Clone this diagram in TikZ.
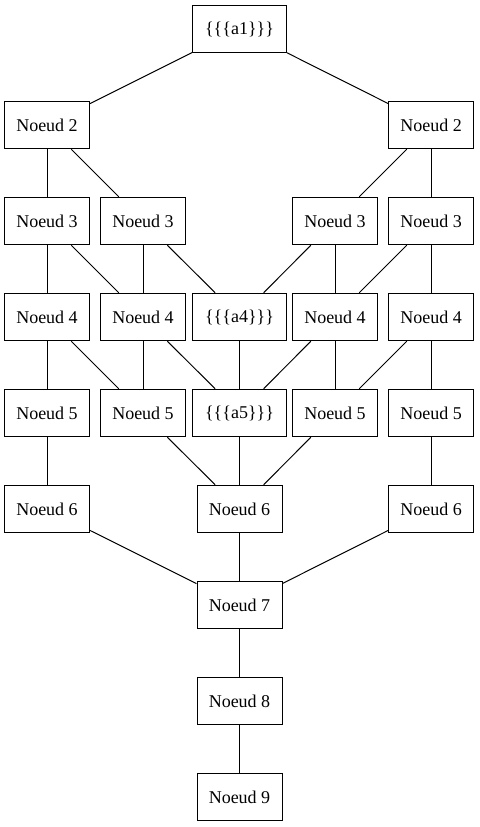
\documentclass[tikz,border=0pt]{standalone}
\usepackage{fontspec}
\setmainfont{Liberation Serif}
\begin{document}
\begin{tikzpicture}[x=0.6pt,y=-0.6pt,
  box/.style={draw,line width=0.6pt,minimum width=51pt,minimum height=28.5pt,inner sep=0pt,font=\fontsize{10.8}{12}\selectfont},
  wbox/.style={box,minimum width=56.4pt},
  edge/.style={line width=0.6pt}]
\useasboundingbox (0,0) rectangle (479,827);
\node[wbox] (a1) at (239.5,29) {\{\{\{a1\}\}\}};
\node[box] (n2l) at (47,125) {Noeud 2};
\node[box] (n2r) at (431,125) {Noeud 2};
\node[box] (n3a) at (47,221) {Noeud 3};
\node[box] (n3b) at (143,221) {Noeud 3};
\node[box] (n3c) at (335,221) {Noeud 3};
\node[box] (n3d) at (431,221) {Noeud 3};
\node[box] (n4a) at (47,317) {Noeud 4};
\node[box] (n4b) at (143,317) {Noeud 4};
\node[wbox] (a4) at (239.5,317) {\{\{\{a4\}\}\}};
\node[box] (n4d) at (335,317) {Noeud 4};
\node[box] (n4e) at (431,317) {Noeud 4};
\node[box] (n5a) at (47,413) {Noeud 5};
\node[box] (n5b) at (143,413) {Noeud 5};
\node[wbox] (a5) at (239.5,413) {\{\{\{a5\}\}\}};
\node[box] (n5d) at (335,413) {Noeud 5};
\node[box] (n5e) at (431,413) {Noeud 5};
\node[box] (n6a) at (47,509) {Noeud 6};
\node[box] (n6b) at (239.5,509) {Noeud 6};
\node[box] (n6c) at (431,509) {Noeud 6};
\node[box] (n7) at (239.5,605) {Noeud 7};
\node[box] (n8) at (239.5,701) {Noeud 8};
\node[box] (n9) at (239.5,797) {Noeud 9};
\foreach \s/\t in {a1/n2l,a1/n2r,n2l/n3a,n2l/n3b,n2r/n3c,n2r/n3d,
  n3a/n4a,n3a/n4b,n3b/n4b,n3b/a4,n3c/a4,n3c/n4d,n3d/n4d,n3d/n4e,
  n4a/n5a,n4a/n5b,n4b/n5b,n4b/a5,a4/a5,n4d/a5,n4d/n5d,n4e/n5d,n4e/n5e,
  n5a/n6a,n5b/n6b,a5/n6b,n5d/n6b,n5e/n6c,
  n6a/n7,n6b/n7,n6c/n7,n7/n8,n8/n9}
  \draw[edge] (\s) -- (\t);
\end{tikzpicture}
\end{document}
